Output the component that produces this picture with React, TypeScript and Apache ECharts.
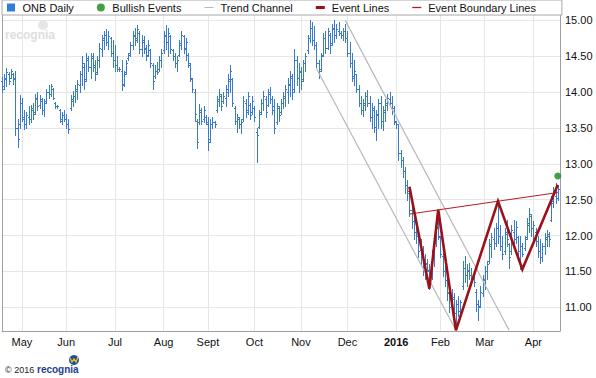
import React, { useEffect, useRef } from "react";
import * as echarts from "echarts";

// trading-day slots (index 0 = late April 2015)
const barCount = 253;
const categories: string[] = Array.from({ length: barCount }, (_, i) => String(i));

// month tick positions (trading-day index) and labels
const monthTicks: [number, string][] = [
  [9, "May"], [29, "Jun"], [51, "Jul"], [73, "Aug"], [93, "Sept"], [114, "Oct"],
  [135, "Nov"], [156, "Dec"], [178, "2016"], [198, "Feb"], [218, "Mar"], [240, "Apr"],
];

// ONB daily bars: [open, high, low, close]
const ohlc: number[][] = [
  [14.15, 14.21, 14.0, 14.05], [14.08, 14.25, 14.05, 14.2], [14.18, 14.33, 14.08, 14.28], [14.25, 14.28, 14.12, 14.15],
  [14.2, 14.32, 14.2, 14.3], [14.25, 14.27, 14.12, 14.18], [14.2, 14.3, 13.4, 13.5], [13.5, 13.62, 13.24, 13.35],
  [13.55, 13.96, 13.5, 13.85], [13.85, 13.92, 13.6, 13.65], [13.62, 13.75, 13.48, 13.55], [13.55, 13.72, 13.5, 13.68],
  [13.65, 13.8, 13.55, 13.62], [13.62, 13.82, 13.58, 13.78], [13.75, 13.85, 13.62, 13.7], [13.72, 13.98, 13.7, 13.92],
  [13.9, 14.0, 13.75, 13.8], [13.82, 13.96, 13.78, 13.9], [13.88, 13.92, 13.7, 13.75], [13.75, 13.9, 13.66, 13.85],
  [13.88, 14.05, 13.85, 14.0], [14.0, 14.1, 13.92, 13.98], [13.98, 14.12, 13.95, 14.08], [14.05, 14.06, 13.9, 13.92],
  [13.85, 13.86, 13.78, 13.8], [13.8, 13.82, 13.78, 13.8], [13.75, 13.77, 13.58, 13.62], [13.6, 13.72, 13.55, 13.68],
  [13.68, 13.75, 13.6, 13.62], [13.62, 13.7, 13.5, 13.55], [13.55, 13.62, 13.43, 13.48], [13.78, 13.96, 13.75, 13.9],
  [13.88, 14.02, 13.8, 13.95], [13.95, 14.1, 13.86, 14.05], [14.02, 14.17, 13.9, 14.12], [14.1, 14.3, 14.0, 14.25],
  [14.25, 14.5, 14.1, 14.4], [14.35, 14.4, 14.05, 14.15], [14.18, 14.54, 14.15, 14.48], [14.45, 14.5, 14.3, 14.35],
  [14.35, 14.55, 14.2, 14.5], [14.48, 14.55, 14.3, 14.38], [14.35, 14.45, 14.17, 14.25], [14.28, 14.5, 14.25, 14.45],
  [14.45, 14.68, 14.35, 14.62], [14.6, 14.8, 14.5, 14.75], [14.72, 14.85, 14.6, 14.8], [14.8, 14.88, 14.65, 14.7],
  [14.7, 14.85, 14.6, 14.78], [14.75, 14.77, 14.5, 14.55], [14.55, 14.72, 14.35, 14.45], [14.45, 14.65, 14.3, 14.38],
  [14.38, 14.5, 14.3, 14.32], [14.32, 14.35, 14.3, 14.32], [14.3, 14.45, 14.03, 14.1], [14.12, 14.3, 14.08, 14.25],
  [14.28, 14.45, 14.25, 14.4], [14.48, 14.55, 14.45, 14.52], [14.55, 14.7, 14.5, 14.65], [14.65, 14.85, 14.6, 14.8],
  [14.78, 14.9, 14.65, 14.72], [14.75, 14.93, 14.7, 14.88], [14.82, 14.85, 14.55, 14.6], [14.6, 14.8, 14.5, 14.72],
  [14.7, 14.78, 14.55, 14.62], [14.6, 14.65, 14.45, 14.5], [14.52, 14.72, 14.5, 14.65], [14.58, 14.6, 14.35, 14.4],
  [14.38, 14.4, 14.05, 14.15], [14.22, 14.38, 14.2, 14.3], [14.3, 14.42, 14.25, 14.28], [14.32, 14.5, 14.3, 14.45],
  [14.45, 14.6, 14.35, 14.55], [14.58, 14.85, 14.55, 14.8], [14.78, 14.93, 14.6, 14.7], [14.7, 14.9, 14.5, 14.82],
  [14.78, 14.8, 14.55, 14.6], [14.58, 14.6, 14.45, 14.5], [14.5, 14.55, 14.35, 14.4], [14.4, 14.5, 14.3, 14.45],
  [14.52, 14.72, 14.5, 14.68], [14.65, 14.85, 14.6, 14.8], [14.78, 14.8, 14.55, 14.62], [14.6, 14.75, 14.45, 14.7],
  [14.52, 14.55, 14.35, 14.4], [14.38, 14.4, 14.15, 14.2], [14.18, 14.2, 14.0, 14.05], [14.0, 14.05, 13.6, 13.7],
  [13.6, 13.62, 13.22, 13.3], [13.58, 13.84, 13.55, 13.75], [13.72, 13.78, 13.56, 13.6], [13.62, 13.8, 13.58, 13.75],
  [13.65, 13.68, 13.55, 13.58], [13.55, 13.65, 13.2, 13.3], [13.35, 13.62, 13.3, 13.55], [13.55, 13.65, 13.5, 13.58],
  [13.58, 13.6, 13.52, 13.55], [13.75, 13.95, 13.72, 13.9], [13.88, 14.05, 13.8, 13.98], [13.95, 13.98, 13.75, 13.8],
  [13.88, 14.0, 13.85, 13.95], [13.92, 14.1, 13.8, 14.05], [14.0, 14.25, 13.95, 14.18], [14.15, 14.38, 14.0, 14.3],
  [14.18, 14.2, 13.8, 13.85], [13.78, 13.8, 13.55, 13.6], [13.6, 13.7, 13.45, 13.65], [13.62, 13.65, 13.5, 13.55],
  [13.55, 13.62, 13.43, 13.58], [13.62, 13.95, 13.6, 13.88], [13.85, 13.9, 13.65, 13.72], [13.75, 14.0, 13.7, 13.95],
  [13.82, 13.85, 13.62, 13.68], [13.72, 13.95, 13.7, 13.88], [13.78, 13.8, 13.6, 13.65], [13.45, 13.5, 13.03, 13.4],
  [13.52, 13.75, 13.5, 13.7], [13.72, 13.9, 13.7, 13.85], [13.85, 14.02, 13.75, 13.95], [13.9, 13.95, 13.65, 13.72],
  [13.82, 14.05, 13.8, 14.0], [13.98, 14.07, 13.85, 13.9], [13.9, 13.95, 13.7, 13.75], [13.8, 13.9, 13.43, 13.5],
  [13.58, 13.85, 13.55, 13.8], [13.78, 13.8, 13.6, 13.68], [13.72, 13.9, 13.7, 13.85], [13.85, 14.0, 13.78, 13.95],
  [13.92, 14.1, 13.8, 14.05], [14.0, 14.2, 13.85, 14.12], [14.1, 14.3, 13.95, 14.22], [14.2, 14.25, 13.9, 14.0],
  [14.05, 14.6, 14.0, 14.45], [14.45, 14.5, 14.1, 14.2], [14.2, 14.4, 14.0, 14.3], [14.28, 14.35, 14.05, 14.15],
  [14.18, 14.45, 14.15, 14.4], [14.4, 14.55, 14.3, 14.5], [14.58, 14.8, 14.55, 14.75], [14.75, 15.0, 14.7, 14.9],
  [14.9, 14.98, 14.65, 14.72], [14.72, 14.92, 14.6, 14.65], [14.65, 14.7, 14.35, 14.4], [14.4, 14.45, 14.2, 14.3],
  [14.32, 14.55, 14.3, 14.5], [14.52, 14.82, 14.5, 14.75], [14.75, 14.85, 14.55, 14.62], [14.62, 14.9, 14.6, 14.85],
  [14.8, 14.82, 14.55, 14.65], [14.68, 14.95, 14.65, 14.9], [14.88, 15.0, 14.7, 14.8], [14.8, 14.95, 14.75, 14.88],
  [14.85, 14.98, 14.8, 14.82], [14.82, 14.85, 14.75, 14.8], [14.8, 14.9, 14.72, 14.85], [14.85, 14.95, 14.7, 14.75],
  [14.75, 14.85, 14.5, 14.55], [14.55, 14.7, 14.35, 14.4], [14.4, 14.55, 14.15, 14.2], [14.22, 14.45, 14.1, 14.3],
  [14.25, 14.25, 14.0, 14.05], [14.05, 14.1, 13.8, 13.85], [13.85, 13.95, 13.7, 13.75], [13.75, 13.9, 13.66, 13.85],
  [13.82, 14.0, 13.75, 13.95], [13.95, 14.03, 13.8, 13.85], [13.85, 13.95, 13.6, 13.65], [13.65, 13.85, 13.5, 13.78],
  [13.75, 13.8, 13.45, 13.52], [13.52, 13.75, 13.33, 13.7], [13.68, 13.9, 13.5, 13.85], [13.85, 13.95, 13.5, 13.6],
  [13.6, 13.8, 13.47, 13.75], [13.72, 13.9, 13.6, 13.85], [13.82, 13.98, 13.75, 13.92], [13.9, 14.0, 13.8, 13.85],
  [13.85, 13.95, 13.7, 13.78], [13.78, 13.8, 13.55, 13.6], [13.58, 13.6, 13.5, 13.55], [13.55, 13.56, 13.05, 13.15],
  [13.15, 13.2, 12.95, 13.05], [13.05, 13.1, 12.82, 12.9], [12.9, 12.96, 12.6, 12.7], [12.7, 12.78, 12.5, 12.62],
  [12.6, 12.68, 12.27, 12.35], [12.35, 12.5, 12.1, 12.2], [12.2, 12.3, 11.95, 12.05], [12.05, 12.18, 11.9, 12.1],
  [12.0, 12.05, 11.7, 11.78], [11.8, 11.95, 11.6, 11.7], [11.7, 11.85, 11.45, 11.55], [11.55, 11.75, 11.39, 11.62],
  [11.6, 11.67, 11.5, 11.52], [11.5, 11.6, 11.26, 11.45], [11.45, 11.8, 11.4, 11.72], [11.72, 11.99, 11.57, 11.92],
  [11.9, 12.2, 11.85, 12.12], [12.1, 12.36, 11.95, 12.0], [11.98, 12.0, 11.7, 11.75], [11.72, 11.76, 11.44, 11.5],
  [11.5, 11.57, 11.3, 11.38], [11.38, 11.45, 11.1, 11.2], [11.22, 11.35, 10.93, 11.0], [11.02, 11.25, 11.0, 11.15],
  [11.12, 11.2, 10.85, 10.92], [10.92, 11.1, 10.7, 11.05], [11.05, 11.16, 10.88, 10.95], [10.95, 11.1, 10.9, 11.08],
  [11.3, 11.65, 11.25, 11.55], [11.55, 11.71, 11.35, 11.45], [11.45, 11.6, 11.3, 11.52], [11.5, 11.62, 11.4, 11.45],
  [11.45, 11.55, 11.34, 11.4], [11.4, 11.5, 11.3, 11.35], [11.22, 11.25, 10.95, 11.05], [11.05, 11.1, 10.83, 11.0],
  [11.02, 11.3, 11.0, 11.22], [11.2, 11.45, 11.16, 11.4], [11.38, 11.57, 11.25, 11.5], [11.5, 11.65, 11.4, 11.6],
  [11.65, 11.95, 11.62, 11.88], [11.85, 12.04, 11.7, 11.98], [11.95, 12.1, 11.81, 11.9], [11.9, 12.18, 11.85, 12.1],
  [12.1, 12.45, 11.9, 12.0], [12.0, 12.15, 11.8, 11.85], [11.85, 12.0, 11.67, 11.75], [11.78, 12.1, 11.75, 12.05],
  [12.02, 12.22, 11.85, 11.95], [11.88, 11.9, 11.55, 11.7], [11.78, 12.15, 11.75, 12.08], [12.05, 12.22, 11.85, 11.95],
  [11.95, 12.2, 11.9, 12.12], [11.98, 12.0, 11.71, 11.78], [11.78, 11.99, 11.53, 11.85], [11.85, 11.9, 11.71, 11.75],
  [11.82, 12.0, 11.8, 11.95], [11.98, 12.25, 11.95, 12.18], [12.15, 12.38, 12.05, 12.3], [12.28, 12.3, 12.0, 12.1],
  [12.1, 12.2, 11.95, 12.15], [12.05, 12.1, 11.85, 11.92], [11.92, 12.0, 11.7, 11.78], [11.78, 11.95, 11.62, 11.7],
  [11.7, 11.9, 11.65, 11.85], [11.85, 12.04, 11.75, 11.98], [11.95, 12.08, 11.85, 12.02], [12.0, 12.05, 11.85, 11.95],
  [12.22, 12.55, 12.2, 12.48], [12.45, 12.68, 12.4, 12.6], [12.55, 12.73, 12.45, 12.52], [12.52, 12.7, 12.5, 12.65],
];

// overlays: [trading-day index, price]
const trendUpper: [number, number][] = [[155, 15.0], [229, 10.68]];
const trendLower: [number, number][] = [[142, 14.33], [205, 10.68]];
const eventLine: [number, number][] = [
  [184, 12.68], [193, 11.26], [197, 12.36], [205, 10.68], [224, 12.48], [235, 11.53], [251, 12.71],
];
const boundaryLine: [number, number][] = [[184, 12.3], [251, 12.6]];
const bullishEvents: [number, number][] = [[251, 12.83]];

const FONT = "'Liberation Sans', Arial, sans-serif";
const BAR_COLOR = "#3a7bc8";
const GREEN = "#138a13";
const TREND = "#b8b8b8";
const EVENT = "#9c1118";
const BOUNDARY = "#b81c22";

export default function App() {
  const ref = useRef<HTMLDivElement>(null);

  useEffect(() => {
    if (!ref.current) return;
    const chart = echarts.init(ref.current, undefined, { renderer: "svg" });
    const tickSet = new Set(monthTicks.map((t) => t[0]));
    const tickLabel = new Map(monthTicks.map((t) => [t[0], t[1]]));
    const barData = ohlc.map((r, i) => [i, r[0], r[1], r[2], r[3]]);

    const option: any = {
      animation: false,
      backgroundColor: "#ffffff",
      textStyle: { fontFamily: FONT },
      grid: { left: 2, right: 36, top: 1, bottom: 47 },
      legend: {
        left: 2,
        top: 0,
        padding: [2, 26, 2, 5],
        itemGap: 23,
        itemWidth: 9,
        itemHeight: 8,
        symbolKeepAspect: true,
        backgroundColor: "#ffffff",
        borderColor: "#a8a8a8",
        borderWidth: 1,
        borderRadius: 0,
        textStyle: { fontSize: 11, color: "#111", fontFamily: FONT, padding: [0, 0, 0, 2] },
        data: [
          { name: "ONB Daily", icon: "path://M0,0L8,0L8,8L0,8Z", itemStyle: { color: "#2f7fd9", borderWidth: 0 } },
          { name: "Bullish Events", icon: "path://M0,3.5A3.5,3.5,0,1,0,7,3.5A3.5,3.5,0,1,0,0,3.5Z", itemStyle: { color: GREEN, borderWidth: 0 } },
          { name: "Trend Channel", icon: "path://M0,0L9,0L9,1L0,1Z", itemStyle: { color: TREND, borderWidth: 0 } },
          { name: "Event Lines", icon: "path://M0,0L9,0L9,3L0,3Z", itemStyle: { color: EVENT, borderWidth: 0 } },
          { name: "Event Boundary Lines", icon: "path://M0,0L9,0L9,1.3L0,1.3Z", itemStyle: { color: BOUNDARY, borderWidth: 0 } },
        ],
      },
      xAxis: {
        type: "category",
        data: categories,
        boundaryGap: false,
        axisLine: { show: true, lineStyle: { color: "#a0a0a0", width: 1 } },
        axisTick: { show: false },
        axisLabel: {
          interval: (index: number) => tickSet.has(index),
          formatter: (_v: string, index: number) => {
            const l = tickLabel.get(index) || "";
            return l === "2016" ? "{b|2016}" : l;
          },
          color: "#111",
          fontSize: 11,
          fontFamily: FONT,
          margin: 5,
          rich: { b: { fontWeight: "bold", fontSize: 11, color: "#111", fontFamily: FONT } },
        },
        splitLine: {
          show: true,
          interval: (index: number) => tickSet.has(index),
          lineStyle: { color: "#e6e6e6", width: 1 },
        },
      },
      yAxis: [
        {
          type: "value",
          position: "right",
          min: 10.67,
          max: 15.27,
          splitNumber: 9,
          axisLine: { show: true, lineStyle: { color: "#a0a0a0", width: 1 } },
          axisTick: { show: false },
          axisLabel: {
            showMinLabel: false,
            showMaxLabel: false,
            formatter: (v: number) => v.toFixed(2),
            color: "#111",
            fontSize: 11,
            fontFamily: FONT,
            margin: 5,
          },
          splitLine: { show: true, showMinLine: false, showMaxLine: false, lineStyle: { color: "#e6e6e6", width: 1 } },
        },
        {
          type: "value",
          position: "left",
          min: 10.67,
          max: 15.27,
          axisLine: { show: true, lineStyle: { color: "#a0a0a0", width: 1 } },
          axisTick: { show: false },
          axisLabel: { show: false },
          splitLine: { show: false },
        },
      ],
      series: [
        {
          name: "ONB Daily",
          type: "custom",
          itemStyle: { color: BAR_COLOR },
          encode: { x: 0, y: [1, 2, 3, 4] },
          data: barData,
          z: 2,
          renderItem: (_params: any, api: any) => {
            const i = api.value(0);
            const pO = api.coord([i, api.value(1)]);
            const pH = api.coord([i, api.value(2)]);
            const pL = api.coord([i, api.value(3)]);
            const pC = api.coord([i, api.value(4)]);
            const x = Math.round(pH[0]) + 0.5;
            const yO = Math.round(pO[1]) + 0.5;
            const yC = Math.round(pC[1]) + 0.5;
            const st = { stroke: BAR_COLOR, lineWidth: 1 };
            return {
              type: "group",
              children: [
                { type: "line", shape: { x1: x, y1: Math.round(pH[1]), x2: x, y2: Math.round(pL[1]) + 1 }, style: st },
                { type: "line", shape: { x1: x - 1.5, y1: yO, x2: x, y2: yO }, style: st },
                { type: "line", shape: { x1: x, y1: yC, x2: x + 1.5, y2: yC }, style: st },
              ],
            };
          },
        },
        {
          name: "Trend Channel",
          type: "line",
          data: trendUpper,
          symbol: "none",
          lineStyle: { color: TREND, width: 1.2 },
          itemStyle: { color: TREND },
          z: 3,
        },
        {
          name: "Trend Channel",
          type: "line",
          data: trendLower,
          symbol: "none",
          lineStyle: { color: TREND, width: 1.2 },
          itemStyle: { color: TREND },
          z: 3,
        },
        {
          name: "Event Boundary Lines",
          type: "line",
          data: boundaryLine,
          symbol: "none",
          lineStyle: { color: BOUNDARY, width: 1 },
          itemStyle: { color: BOUNDARY },
          z: 4,
        },
        {
          name: "Event Lines",
          type: "line",
          data: eventLine,
          symbol: "none",
          lineStyle: { color: EVENT, width: 2.6, join: "miter" },
          itemStyle: { color: EVENT },
          z: 5,
        },
        {
          name: "Bullish Events",
          type: "scatter",
          data: bullishEvents,
          symbol: "circle",
          symbolSize: 7,
          itemStyle: { color: GREEN },
          z: 6,
        },
      ],
      graphic: [
        // faint watermark top-left
        { type: "circle", shape: { cx: 43, cy: 25, r: 5 }, style: { fill: "#e6e6e6" }, silent: true, z: 1 },
        {
          type: "text",
          left: 5,
          top: 29,
          style: { text: "recognia", fill: "#dedede", font: `bold 12px ${FONT}` },
          silent: true,
          z: 1,
        },
        // footer
        {
          type: "text",
          left: 5,
          top: 365,
          style: { text: "© 2016", fill: "#222", font: `9px ${FONT}` },
        },
        { type: "circle", shape: { cx: 74, cy: 360, r: 5 }, style: { fill: "#1e4d9a" } },
        {
          type: "polyline",
          shape: { points: [[70, 358], [72, 362], [74, 359], [76, 362], [78, 357]] },
          style: { stroke: "#f2c21b", lineWidth: 1.3, fill: "none" },
        },
        {
          type: "text",
          left: 37,
          top: 364,
          style: { text: "recognia", fill: "#1e3f8c", font: `bold 10px ${FONT}` },
        },
      ],
    };

    chart.setOption(option);
    return () => chart.dispose();
  }, []);

  return (
    <div
      ref={ref}
      style={{ position: "absolute", left: 0, top: 0, width: 596, height: 378, background: "#fff" }}
    />
  );
}
